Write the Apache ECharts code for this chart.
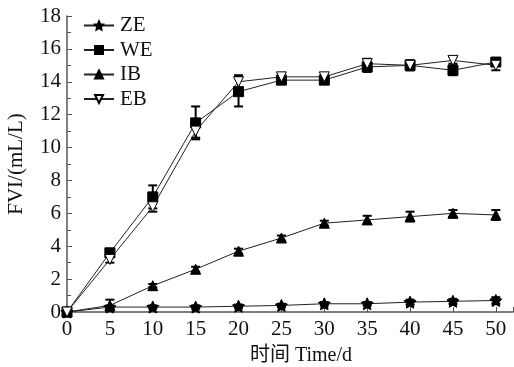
<!DOCTYPE html>
<html>
<head>
<meta charset="utf-8">
<script src="https://cdn.jsdelivr.net/npm/echarts@6/dist/echarts.min.js"></script>
<style>html,body{margin:0;padding:0;background:#fff}#c{width:514px;height:367px}</style>
</head>
<body>
<div id="c"></div>
<script>
const days = [0, 5, 10, 15, 20, 25, 30, 35, 40, 45, 50];
const seriesNames = ['ZE', 'WE', 'IB', 'EB'];
const zeValues = [0, 0.3, 0.3, 0.3, 0.35, 0.4, 0.5, 0.5, 0.6, 0.65, 0.7];
const zeErr    = [0, 0.1, 0.1, 0.1, 0.1, 0.1, 0.1, 0.1, 0.15, 0.15, 0.2];
const weValues = [0, 3.6, 7.0, 11.5, 13.4, 14.1, 14.1, 14.9, 15.0, 14.7, 15.2];
const weErr    = [0, 0.2, 0.7, 1.0, 0.9, 0.2, 0.2, 0.3, 0.3, 0.3, 0.2];
const ibValues = [0, 0.4, 1.6, 2.6, 3.7, 4.5, 5.4, 5.6, 5.8, 6.0, 5.9];
const ibErr    = [0, 0.35, 0.1, 0.15, 0.15, 0.15, 0.15, 0.25, 0.3, 0.2, 0.3];
const ebValues = [0, 3.2, 6.4, 11.0, 14.0, 14.3, 14.3, 15.1, 15.0, 15.3, 15.0];
const ebErr    = [0, 0.2, 0.3, 0.4, 0.4, 0.2, 0.2, 0.3, 0.3, 0.2, 0.3];
const yTicks = [0, 2, 4, 6, 8, 10, 12, 14, 16, 18];

const font = '"Liberation Serif", "Noto Sans CJK SC", serif';
const symbols = {ZE: 'path://M0,-10 L2.9,-4 L9.5,-3.1 L4.7,1.5 L5.9,8.1 L0,5 L-5.9,8.1 L-4.7,1.5 L-9.5,-3.1 L-2.9,-4 Z',
  WE: 'rect', IB: 'triangle', EB: 'path://M-10,-8 L10,-8 L0,9 Z'};
const vals = {ZE: zeValues, WE: weValues, IB: ibValues, EB: ebValues};
const errs = {ZE: zeErr, WE: weErr, IB: ibErr, EB: ebErr};

const series = [];
seriesNames.forEach(function (n) {
  series.push({
    name: n, type: 'line', data: days.map((d, i) => [d, vals[n][i]]),
    symbol: symbols[n], symbolSize: n === 'ZE' ? 12 : 10,
    lineStyle: {color: '#222', width: 1},
    itemStyle: {color: n === 'EB' ? '#fff' : '#000', borderColor: '#000', borderWidth: 1},
    z: 3
  });
  series.push({
    name: n + '_err', type: 'custom',
    data: days.map((d, i) => [d, vals[n][i] - errs[n][i], vals[n][i] + errs[n][i]]),
    renderItem: function (params, api) {
      const lo = api.coord([api.value(0), api.value(1)]);
      const hi = api.coord([api.value(0), api.value(2)]);
      const w = 4.5;
      return {type: 'group', children: [
        {type: 'line', shape: {x1: lo[0], y1: lo[1], x2: hi[0], y2: hi[1]}, style: {stroke: '#000', lineWidth: 2}},
        {type: 'line', shape: {x1: lo[0] - w, y1: lo[1], x2: lo[0] + w, y2: lo[1]}, style: {stroke: '#000', lineWidth: 2}},
        {type: 'line', shape: {x1: hi[0] - w, y1: hi[1], x2: hi[0] + w, y2: hi[1]}, style: {stroke: '#000', lineWidth: 2}}
      ]};
    },
    z: 2, silent: true
  });
});

const chart = echarts.init(document.getElementById('c'));
chart.setOption({
  animation: false,
  backgroundColor: '#fff',
  grid: {left: 67, right: 1, top: 16, bottom: 55, containLabel: false, outerBoundsMode: 'none'},
  legend: {
    data: seriesNames, orient: 'vertical', left: 83, top: 15, padding: 0,
    itemWidth: 30, itemHeight: 10, itemGap: 3.5,
    textStyle: {fontFamily: font, fontSize: 21, color: '#111', padding: [0, 0, 0, 1]}
  },
  xAxis: {
    type: 'value', min: 0, max: 52, interval: 5,
    name: '时间 Time/d', nameLocation: 'middle', nameGap: 34,
    nameTextStyle: {fontFamily: font, fontSize: 20, color: '#111', padding: [0, 0, 0, 22]},
    axisLine: {lineStyle: {color: '#555', width: 1.5}},
    axisTick: {inside: true, length: 5, lineStyle: {color: '#555'}},
    axisLabel: {fontFamily: font, fontSize: 21, color: '#111', margin: 7,
      formatter: v => (v % 5 === 0 ? String(v) : '')},
    splitLine: {show: false}
  },
  yAxis: {
    type: 'value', min: 0, max: 18, interval: 2,
    name: 'FVI/(mL/L)', nameLocation: 'middle', nameGap: 40,
    nameTextStyle: {fontFamily: font, fontSize: 21, color: '#111'},
    axisLine: {show: true, lineStyle: {color: '#555', width: 1.5}},
    axisTick: {inside: true, length: 5, lineStyle: {color: '#555'}},
    minorTick: {show: true, splitNumber: 2, length: 4, lineStyle: {color: '#555'}},
    axisLabel: {fontFamily: font, fontSize: 21, color: '#111', margin: 6,
      formatter: v => (yTicks.indexOf(v) >= 0 ? String(v) : '')},
    splitLine: {show: false}
  },
  series: series
});
</script>
</body>
</html>
